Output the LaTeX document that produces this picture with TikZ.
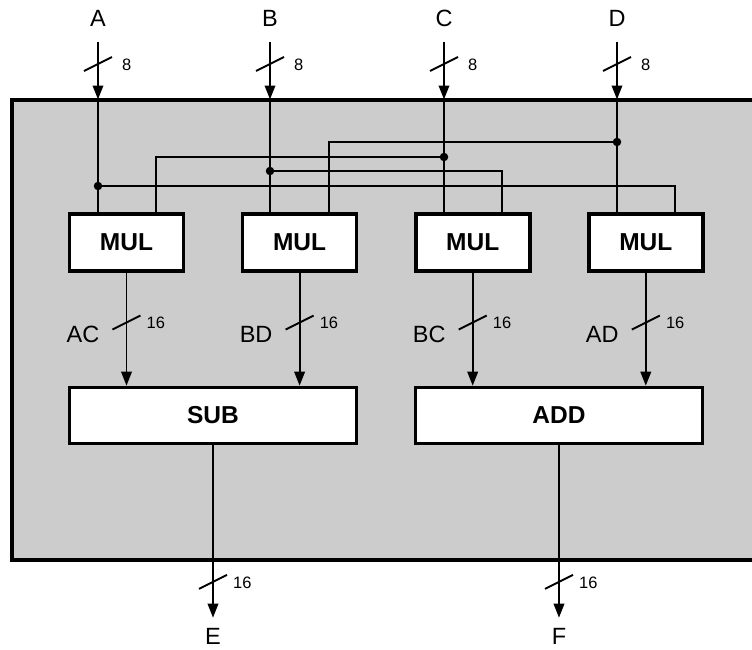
\documentclass[tikz,border=0pt]{standalone}
\usepackage{fontspec}
\setmainfont{Liberation Sans}
\usetikzlibrary{arrows.meta,positioning,calc}

\begin{document}
\begin{tikzpicture}[x=1pt, y=-1pt,
  wire/.style={line width=1.9pt},
  bus/.style={wire, -{Triangle[length=14pt,width=10.5pt]}},
  unit/.style={draw, line width=3.6pt, fill=white, inner sep=0pt,
    font=\fontsize{24.5}{29}\selectfont\bfseries},
  mulbox/.style={unit, minimum width=114pt, minimum height=56.5pt},
  opbox/.style={unit, minimum width=287pt, minimum height=56pt},
  port/.style={font=\fontsize{23.5}{28}\selectfont, inner sep=0pt},
  tick/.style={font=\fontsize{16.5}{20}\selectfont, inner sep=0pt, anchor=west},
  joint/.style={circle, fill, inner sep=0pt, minimum size=8.5pt}]

  \useasboundingbox (0,0) rectangle (752,649);

  % chip outline
  \node[draw, line width=4pt, fill=gray!40, outer sep=0pt,
        minimum width=763pt, minimum height=460pt] (frame) at (393.5,329.5) {};

  % multipliers and adders
  \node[mulbox] (m1) at (126.5,242.5) {MUL};
  \node[mulbox, right=55.5pt of m1] (m2) {MUL};
  \node[mulbox, right=55.5pt of m2] (m3) {MUL};
  \node[mulbox, right=55.5pt of m3] (m4) {MUL};
  \node[opbox] (sub) at (213,415.5) {SUB};
  \node[opbox] (add) at (559,415.5) {ADD};

  % inputs
  \node[port] (A) at (98,18) {A};
  \node[port] (B) at (270,18) {B};
  \node[port] (C) at (444,18) {C};
  \node[port] (D) at (617,18) {D};
  \draw[bus, shorten <=15.5pt] (A) -- (A |- frame.north);
  \draw[bus, shorten <=15.5pt] (B) -- (B |- frame.north);
  \draw[bus, shorten <=15.5pt] (C) -- (C |- frame.north);
  \draw[bus, shorten <=15.5pt] (D) -- (D |- frame.north);
  \coordinate (sA) at ($(A)+(0,46)$);
  \coordinate (sB) at ($(B)+(0,46)$);
  \coordinate (sC) at ($(C)+(0,46)$);
  \coordinate (sD) at ($(D)+(0,46)$);
  \draw[wire] ($(sA)+(-14,7)$) -- ($(sA)+(14,-7)$);
  \draw[wire] ($(sB)+(-14,7)$) -- ($(sB)+(14,-7)$);
  \draw[wire] ($(sC)+(-14,7)$) -- ($(sC)+(14,-7)$);
  \draw[wire] ($(sD)+(-14,7)$) -- ($(sD)+(14,-7)$);
  \node[tick] (wA) at ($(sA)+(24,1)$) {8};
  \node[tick] (wB) at ($(sB)+(24,1)$) {8};
  \node[tick] (wC) at ($(sC)+(24,1)$) {8};
  \node[tick] (wD) at ($(sD)+(24,1)$) {8};

  % fan-out to the multipliers
  \draw[wire] (A |- frame.north) -- (A |- m1.north);
  \draw[wire] (B |- frame.north) -- (B |- m2.north);
  \draw[wire] (C |- frame.north) -- (C |- m3.north);
  \draw[wire] (D |- frame.north) -- (D |- m4.north);
  \node[joint] (jA) at ($(A)+(0,168)$) {};
  \node[joint] (jB) at ($(B)+(0,153)$) {};
  \node[joint] (jC) at ($(C)+(0,139)$) {};
  \node[joint] (jD) at ($(D)+(0,124)$) {};
  \draw[wire] (jA) -| ($(m4.north)+(29.5,0)$);
  \draw[wire] (jB) -| ($(m3.north)+(29,0)$);
  \draw[wire] (jC) -| ($(m1.north)+(29.5,0)$);
  \draw[wire] (jD) -| ($(m2.north)+(29,0)$);

  % products
  \draw[bus] (m1) -- (m1 |- sub.north);
  \draw[bus] (m2) -- (m2 |- sub.north);
  \draw[bus] (m3) -- (m3 |- add.north);
  \draw[bus] (m4) -- (m4 |- add.north);
  \coordinate (s1) at ($(m1.south)+(0,50)$);
  \coordinate (s2) at ($(m2.south)+(0,50)$);
  \coordinate (s3) at ($(m3.south)+(0,50)$);
  \coordinate (s4) at ($(m4.south)+(0,50)$);
  \draw[wire] ($(s1)+(-14,7)$) -- ($(s1)+(14,-7)$);
  \draw[wire] ($(s2)+(-14,7)$) -- ($(s2)+(14,-7)$);
  \draw[wire] ($(s3)+(-14,7)$) -- ($(s3)+(14,-7)$);
  \draw[wire] ($(s4)+(-14,7)$) -- ($(s4)+(14,-7)$);
  \node[tick] (w1) at ($(s1)+(20,0)$) {16};
  \node[tick] (w2) at ($(s2)+(20,0)$) {16};
  \node[tick] (w3) at ($(s3)+(20,0)$) {16};
  \node[tick] (w4) at ($(s4)+(20,0)$) {16};
  \node[port, anchor=east] (p1) at ($(s1)+(-27,12)$) {AC};
  \node[port, anchor=east] (p2) at ($(s2)+(-27,12)$) {BD};
  \node[port, anchor=east] (p3) at ($(s3)+(-27,12)$) {BC};
  \node[port, anchor=east] (p4) at ($(s4)+(-27,12)$) {AD};

  % outputs
  \node[port] (E) at (213,636) {E};
  \node[port] (F) at (559,636) {F};
  \draw[bus, shorten >=10pt] (sub) -- (E);
  \draw[bus, shorten >=10pt] (add) -- (F);
  \coordinate (sE) at ($(sub.south)+(0,136.5)$);
  \coordinate (sF) at ($(add.south)+(0,136.5)$);
  \draw[wire] ($(sE)+(-14,7)$) -- ($(sE)+(14,-7)$);
  \draw[wire] ($(sF)+(-14,7)$) -- ($(sF)+(14,-7)$);
  \node[tick] (wE) at ($(sE)+(20,1)$) {16};
  \node[tick] (wF) at ($(sF)+(20,1)$) {16};
\end{tikzpicture}
\end{document}
